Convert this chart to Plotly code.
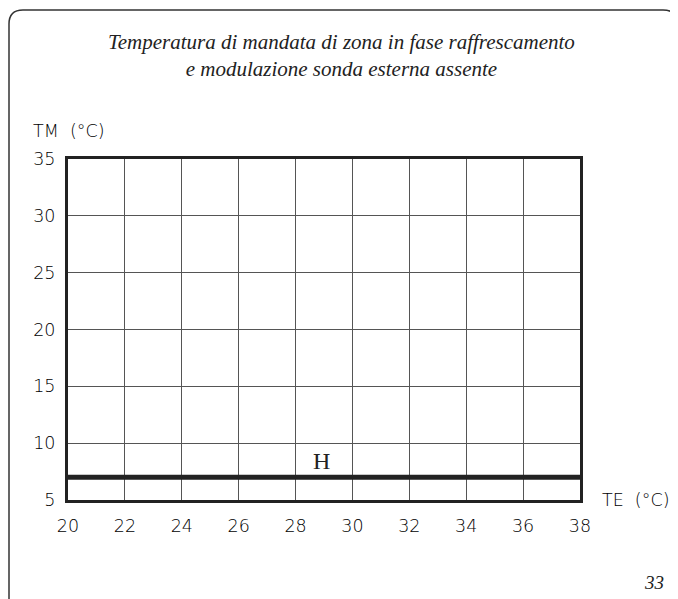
import plotly.graph_objects as go

# curve H: flat supply temperature without external probe
te_values = [20, 38]
tm_values = [7, 7]

x_ticks = [20, 22, 24, 26, 28, 30, 32, 34, 36, 38]
y_ticks = [5, 10, 15, 20, 25, 30, 35]

title_text = ("Temperatura di mandata di zona in fase raffrescamento<br>"
              "e modulazione sonda esterna assente")

W, H = 678, 599
OFF = 8  # page body margin
L, T = 68 - OFF, 159 - OFF
pw, ph = 512, 341
R, B = W - L - pw, H - T - ph


def px(x):
    # screen pixel -> paper x
    return (x - OFF - L) / pw


def py(y):
    # screen pixel -> paper y
    return (T + ph - (y - OFF)) / ph


fig = go.Figure()

fig.add_trace(go.Scatter(
    x=te_values, y=tm_values, mode="lines",
    line=dict(color="#222222", width=5),
    hoverinfo="skip", showlegend=False,
))

# rounded page frame
x0, y0, x1, y1, r = 9, 10, 677, 620, 14
frame = (f"M {px(x0)},{py(y1)} L {px(x0)},{py(y0 + r)} "
         f"Q {px(x0)},{py(y0)} {px(x0 + r)},{py(y0)} "
         f"L {px(x1 - r)},{py(y0)} Q {px(x1)},{py(y0)} {px(x1)},{py(y0 + r)} "
         f"L {px(x1)},{py(y1)}")
fig.add_shape(type="path", path=frame, xref="paper", yref="paper",
              line=dict(color="#333333", width=1.5), layer="below")

tick_font = dict(family="DejaVu Sans", size=17.5, color="#000000", weight=200)

fig.update_layout(
    width=W, height=H,
    margin=dict(l=L, r=R, t=T, b=B, autoexpand=False),
    paper_bgcolor="white", plot_bgcolor="white",
    showlegend=False,
    annotations=[
        dict(text=title_text, x=px(341), y=py(55), xref="paper", yref="paper",
             showarrow=False, xanchor="center", yanchor="middle",
             font=dict(family="Liberation Serif", size=21, color="#222222", style="italic")),
        dict(text="TM  (°C)", x=px(31), y=py(131), xref="paper", yref="paper",
             showarrow=False, xanchor="left", yanchor="middle", font=tick_font),
        dict(text="TE  (°C)", x=px(600), y=py(500), xref="paper", yref="paper",
             showarrow=False, xanchor="left", yanchor="middle", font=tick_font),
        dict(text="H", x=28.9, y=7, xref="x", yref="y", yshift=1,
             showarrow=False, xanchor="center", yanchor="bottom",
             font=dict(family="Liberation Serif", size=24, color="#222222")),
        dict(text="33", x=px(666), y=py(582), xref="paper", yref="paper",
             showarrow=False, xanchor="right", yanchor="middle",
             font=dict(family="Liberation Serif", size=19, color="#222222", style="italic")),
    ],
)

fig.update_xaxes(
    range=[20, 38], tickvals=x_ticks, ticks="", showgrid=True,
    gridcolor="#555555", gridwidth=1.2, zeroline=False,
    showline=True, linecolor="#222222", linewidth=3, mirror=True,
    tickfont=tick_font, ticklabelstandoff=8,
)
fig.update_yaxes(
    range=[5, 35], tickvals=y_ticks, ticks="", showgrid=True,
    gridcolor="#555555", gridwidth=1.2, zeroline=False,
    showline=True, linecolor="#222222", linewidth=3, mirror=True,
    tickfont=tick_font, ticklabelstandoff=6,
)

fig.write_html("out.html")
